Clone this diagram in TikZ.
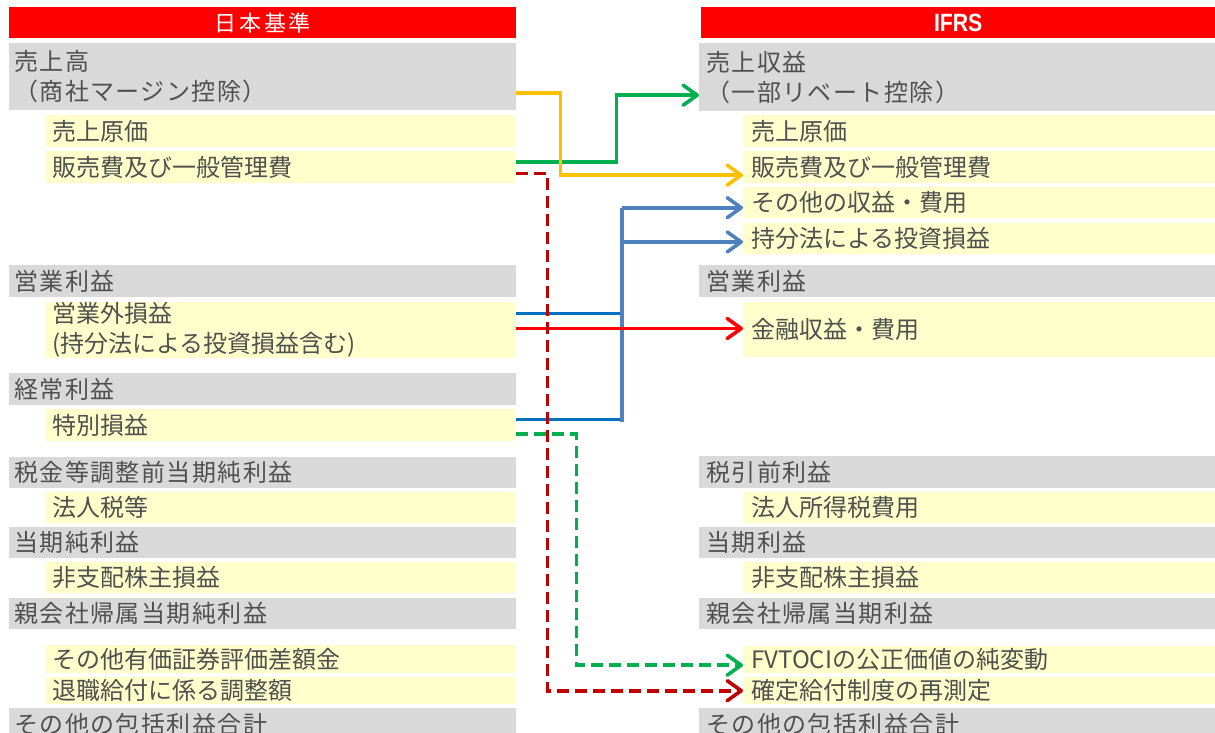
\documentclass[tikz,border=0pt]{standalone}
\usepackage{fontspec}
\setmainfont{Noto Sans CJK JP}
\newfontfamily\sumfont[LetterSpace=6]{Noto Sans CJK JP}
\newfontfamily\hdrfont[LetterSpace=12]{Noto Sans CJK JP}
\newfontfamily\ifrsfont[FakeStretch=0.85]{Liberation Sans}
\usetikzlibrary{arrows.meta}

\definecolor{hdrred}{HTML}{FF0000}
\definecolor{sumgray}{HTML}{D9D9D9}
\definecolor{itemyellow}{HTML}{FFFFCC}
\definecolor{txtgray}{HTML}{505050}
\definecolor{linkorange}{HTML}{FFC000}
\definecolor{linkgreen}{HTML}{00B050}
\definecolor{linkblue}{HTML}{0070C0}
\definecolor{linksteel}{HTML}{4F81BD}
\definecolor{linkred}{HTML}{FF0000}
\definecolor{linkdark}{HTML}{C00000}

\begin{document}
\begin{tikzpicture}[x=1pt,y=-1pt,
	box/.style={anchor=north west,inner ysep=0pt,align=left,text=txtgray},
	hdr/.style={anchor=north west,inner sep=0pt,fill=hdrred,text=white,minimum height=31pt},
	sumL/.style={box,fill=sumgray,inner xsep=5pt,text width=497pt,font=\sumfont\fontsize{24pt}{30pt}\selectfont},
	itemL/.style={box,fill=itemyellow,inner xsep=7pt,text width=457pt,font=\fontsize{24pt}{30pt}\selectfont},
	sumR/.style={box,fill=sumgray,inner xsep=7pt,text width=502pt,font=\sumfont\fontsize{24pt}{30pt}\selectfont},
	itemR/.style={box,fill=itemyellow,inner xsep=8pt,text width=456pt,font=\fontsize{24pt}{30pt}\selectfont},
	link/.style={line width=3.6pt},
	tip/.style={-{Straight Barb[length=14pt,width=20pt,round]}},
	dashlink/.style={link,dash pattern=on 12pt off 6pt}]
\useasboundingbox (0,0) rectangle (1215,733);
\clip (0,0) rectangle (1215,733);

%headers
\node[hdr,minimum width=507pt,font=\hdrfont\fontsize{22pt}{24pt}\selectfont] (jpHead) at (9,7) {日本基準};
\node[hdr,minimum width=514pt,font=\ifrsfont\bfseries\fontsize{25pt}{28pt}\selectfont] (ifHead) at (701,7) {IFRS};

%left column
\foreach \n/\s/\t/\h/\txt in {
	Sales/sumL/43/67/{売上高\\（商社マージン控除）},
	Cogs/itemL/115/31.5/売上原価,
	Sga/itemL/151/31.5/販売費及び一般管理費,
	OpInc/sumL/265/32/営業利益,
	NonOp/itemL/301.7/56/{営業外損益\\(持分法による投資損益含む)},
	OrdInc/sumL/373/32/経常利益,
	Special/itemL/409/32/特別損益,
	Pretax/sumL/456.5/31/税金等調整前当期純利益,
	Tax/itemL/492/30.5/法人税等,
	NetInc/sumL/527/30.5/当期純利益,
	Minority/itemL/562/31/非支配株主損益,
	Parent/sumL/597.5/31/親会社帰属当期純利益,
	Securities/itemL/645/28/その他有価証券評価差額金,
	Retire/itemL/676.5/27.5/退職給付に係る調整額,
	Oci/sumL/708/32/その他の包括利益合計}{
	\node[\s,minimum height=\h pt] (jp\n) at (\ifnum\pdfstrcmp{\s}{sumL}=0 9\else 45\fi,\t) {\txt};
}

%right column
\foreach \n/\s/\t/\h/\txt in {
	Sales/sumR/43/68/{売上収益\\（一部リベート控除）},
	Cogs/itemR/115/32/売上原価,
	Sga/itemR/151/32/販売費及び一般管理費,
	Other/itemR/187/31/その他の収益・費用,
	Equity/itemR/223/30.5/持分法による投資損益,
	OpInc/sumR/265/32/営業利益,
	Fin/itemR/302/55/金融収益・費用,
	Pretax/sumR/456/31.5/税引前利益,
	Tax/itemR/492/30.5/法人所得税費用,
	NetInc/sumR/527/30.5/当期利益,
	Minority/itemR/562/31/非支配株主損益,
	Parent/sumR/597.5/31/親会社帰属当期利益,
	Fvtoci/itemR/646/27/FVTOCIの公正価値の純変動,
	Remeasure/itemR/677/27/確定給付制度の再測定,
	Oci/sumR/708/32/その他の包括利益合計}{
	\node[\s,minimum height=\h pt] (if\n) at (\ifnum\pdfstrcmp{\s}{sumR}=0 699\else 743\fi,\t) {\txt};
}

%bus for the blue links
\coordinate (busTop) at (622,207.7);
\coordinate (busBot) at (622,421.7);

%blue
\draw[link,linkblue] ([yshift=16.4pt]jpNonOp.east) -- ++(106,0);
\draw[link,linkblue] ([yshift=5.7pt]jpSpecial.east) -- ++(106,0);
\draw[link,linksteel] (busBot) -- (busTop);
\draw[link,linksteel,tip] (busTop) -- (busTop -| ifOther.west);
\draw[link,linksteel,tip] ([yshift=-3.5pt]ifEquity.west -| busTop) -- ([yshift=-3.5pt]ifEquity.west);

%green
\draw[link,linkgreen,tip] ([yshift=5pt]jpSga.east) -- ++(100,0) |- ([yshift=-18pt]ifSales.west);
%orange
\draw[link,linkorange,tip] ([yshift=-16.5pt]jpSales.east) -- ++(44,0) |- ([yshift=-8pt]ifSga.west);

%red
\draw[link,linkred,tip] ([yshift=1.4pt]jpNonOp.east) -- ([yshift=1.4pt]jpNonOp.east -| ifFin.west);

%green dashed
\draw[dashlink,linkgreen,tip] ([yshift=-9pt]jpSpecial.east) -- ++(60,0) |- ([yshift=-5.5pt]ifFvtoci.west);
%dark red dashed
\draw[dashlink,linkdark,tip] ([yshift=-6.5pt]jpSga.east) -- ++(31,0) |- (ifRemeasure.west);

\end{tikzpicture}
\end{document}
